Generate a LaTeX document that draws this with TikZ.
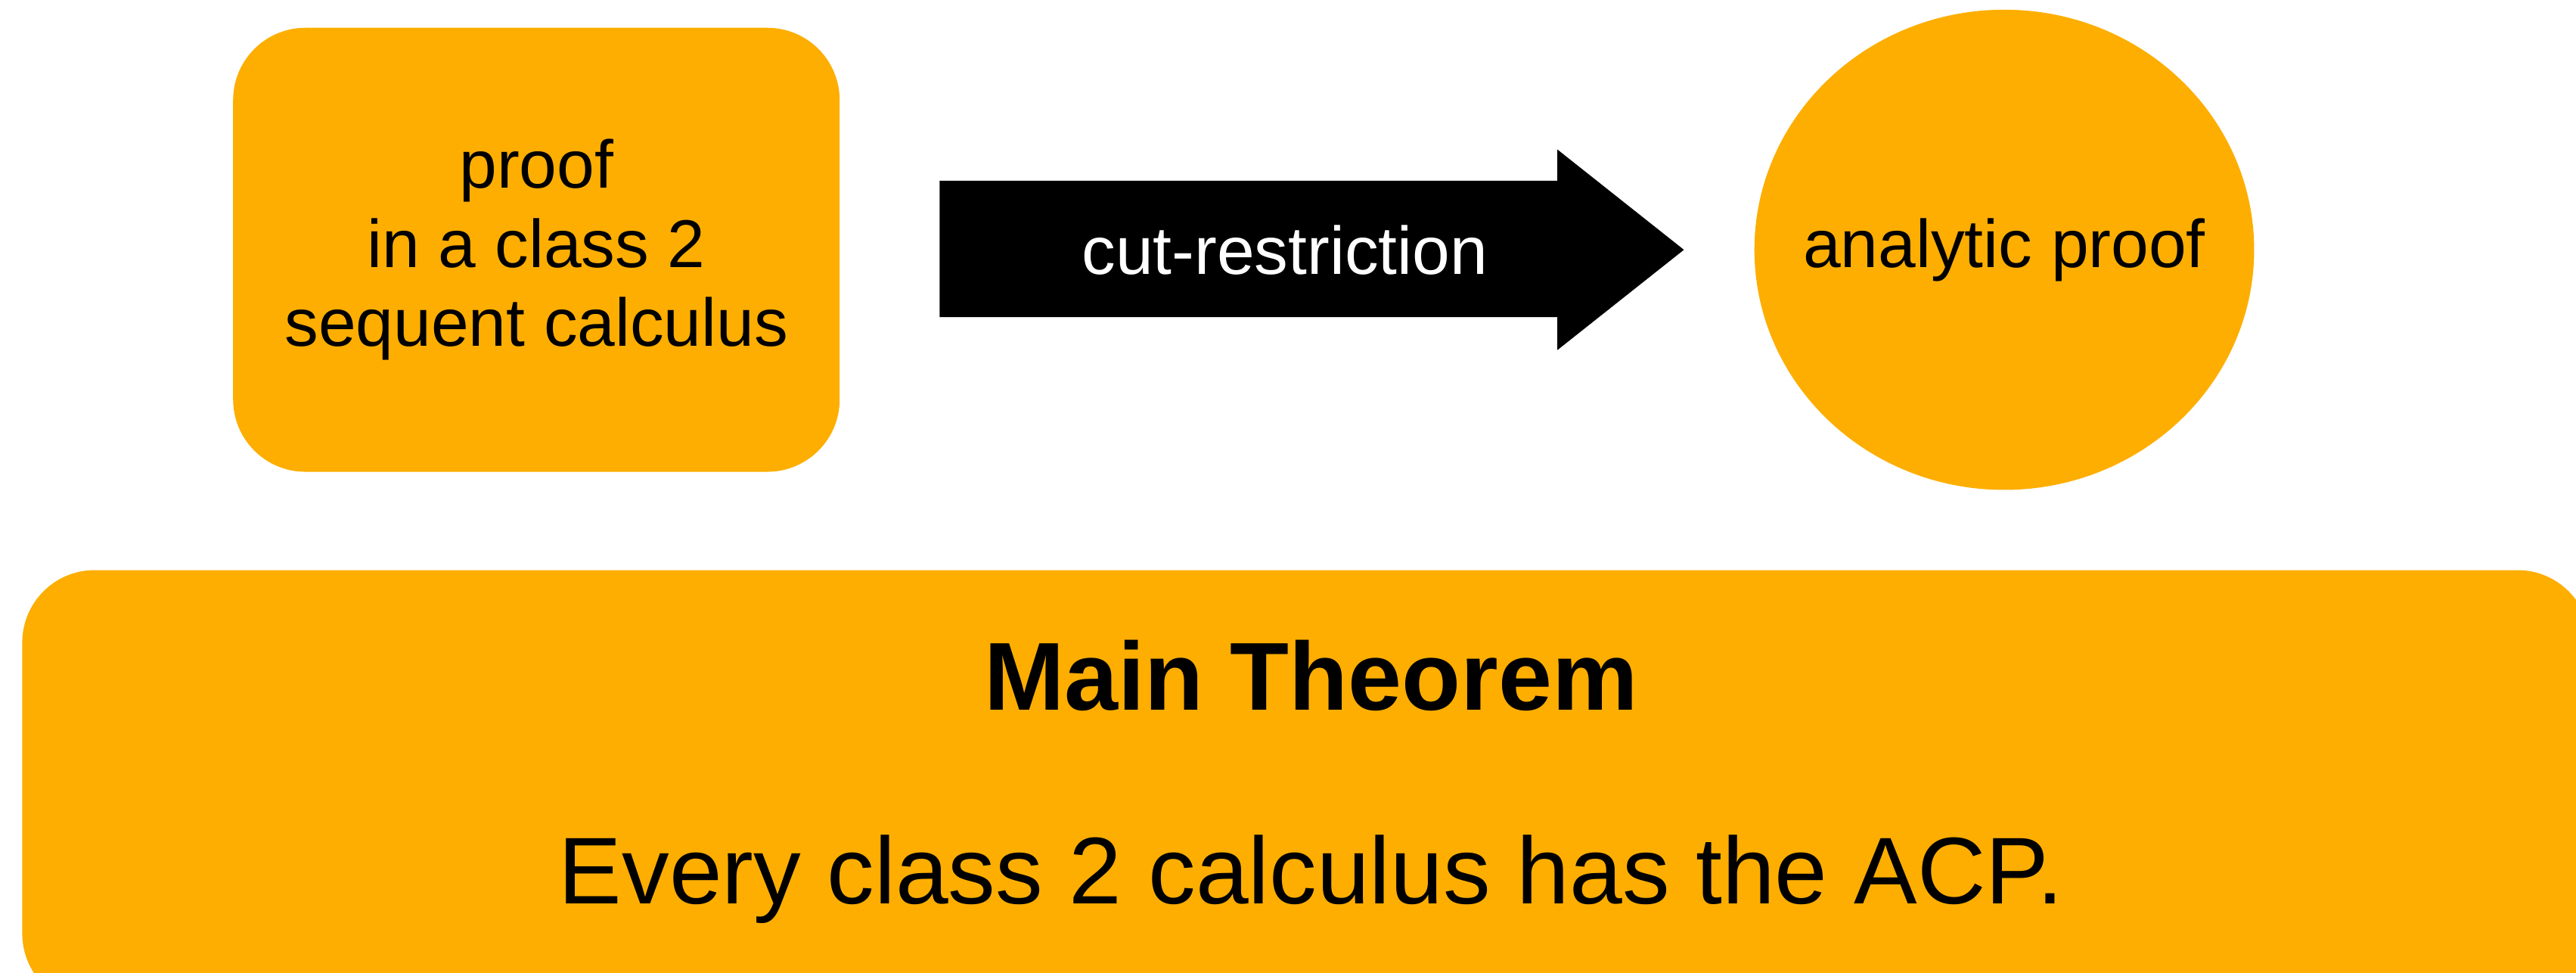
\documentclass[tikz,border=0pt]{standalone}
\usepackage{fontspec}
\setmainfont{Liberation Sans}
\usetikzlibrary{shapes.geometric}
\definecolor{accent}{RGB}{253,174,0}
\begin{document}
\begin{tikzpicture}[x=0.01cm,y=-0.01cm,
  fillbox/.style={fill=accent, draw=none, rounded corners=0.44cm, inner sep=0pt},
  txt/.style={font=\fontsize{11.7}{13.7}\selectfont, align=center},
  bigtxt/.style={font=\fontsize{16.4}{20}\selectfont, anchor=base},
  bigbold/.style={font=\bfseries\fontsize{16.7}{20}\selectfont, anchor=base}]
\clip (0,0) rectangle (1568,592);
\useasboundingbox (0,0) rectangle (1568,592);
% left box
\node[fillbox, minimum width=3.69cm, minimum height=2.70cm, txt] (src) at (326.5,152) {proof\\in a class 2\\sequent calculus};
% big arrow
\coordinate (a1) at (572,110);
\coordinate (a2) at (948,110);
\coordinate (a3) at (948,91);
\coordinate (tip) at (1025,152);
\coordinate (a4) at (948,213);
\coordinate (a5) at (948,193);
\coordinate (a6) at (572,193);
\fill[black] (a1) -- (a2) -- (a3) -- (tip) -- (a4) -- (a5) -- (a6) -- cycle;
\node[txt, text=white] (cut) at (782,152) {cut-restriction};
% ellipse
\node[ellipse, fill=accent, minimum width=3.04cm, minimum height=2.92cm, inner sep=0pt] (ana) at (1220,152) {};
\node[txt] (analabel) at (ana.center) {analytic proof};
% bottom box
\node[fillbox, minimum width=15.62cm, minimum height=2.65cm] (thm) at (795,479.5) {};
\node[bigbold] (mt) at (798,432) {Main Theorem};
\node[bigtxt] (every) at (798,550) {Every class 2 calculus has the ACP.};
\end{tikzpicture}
\end{document}
